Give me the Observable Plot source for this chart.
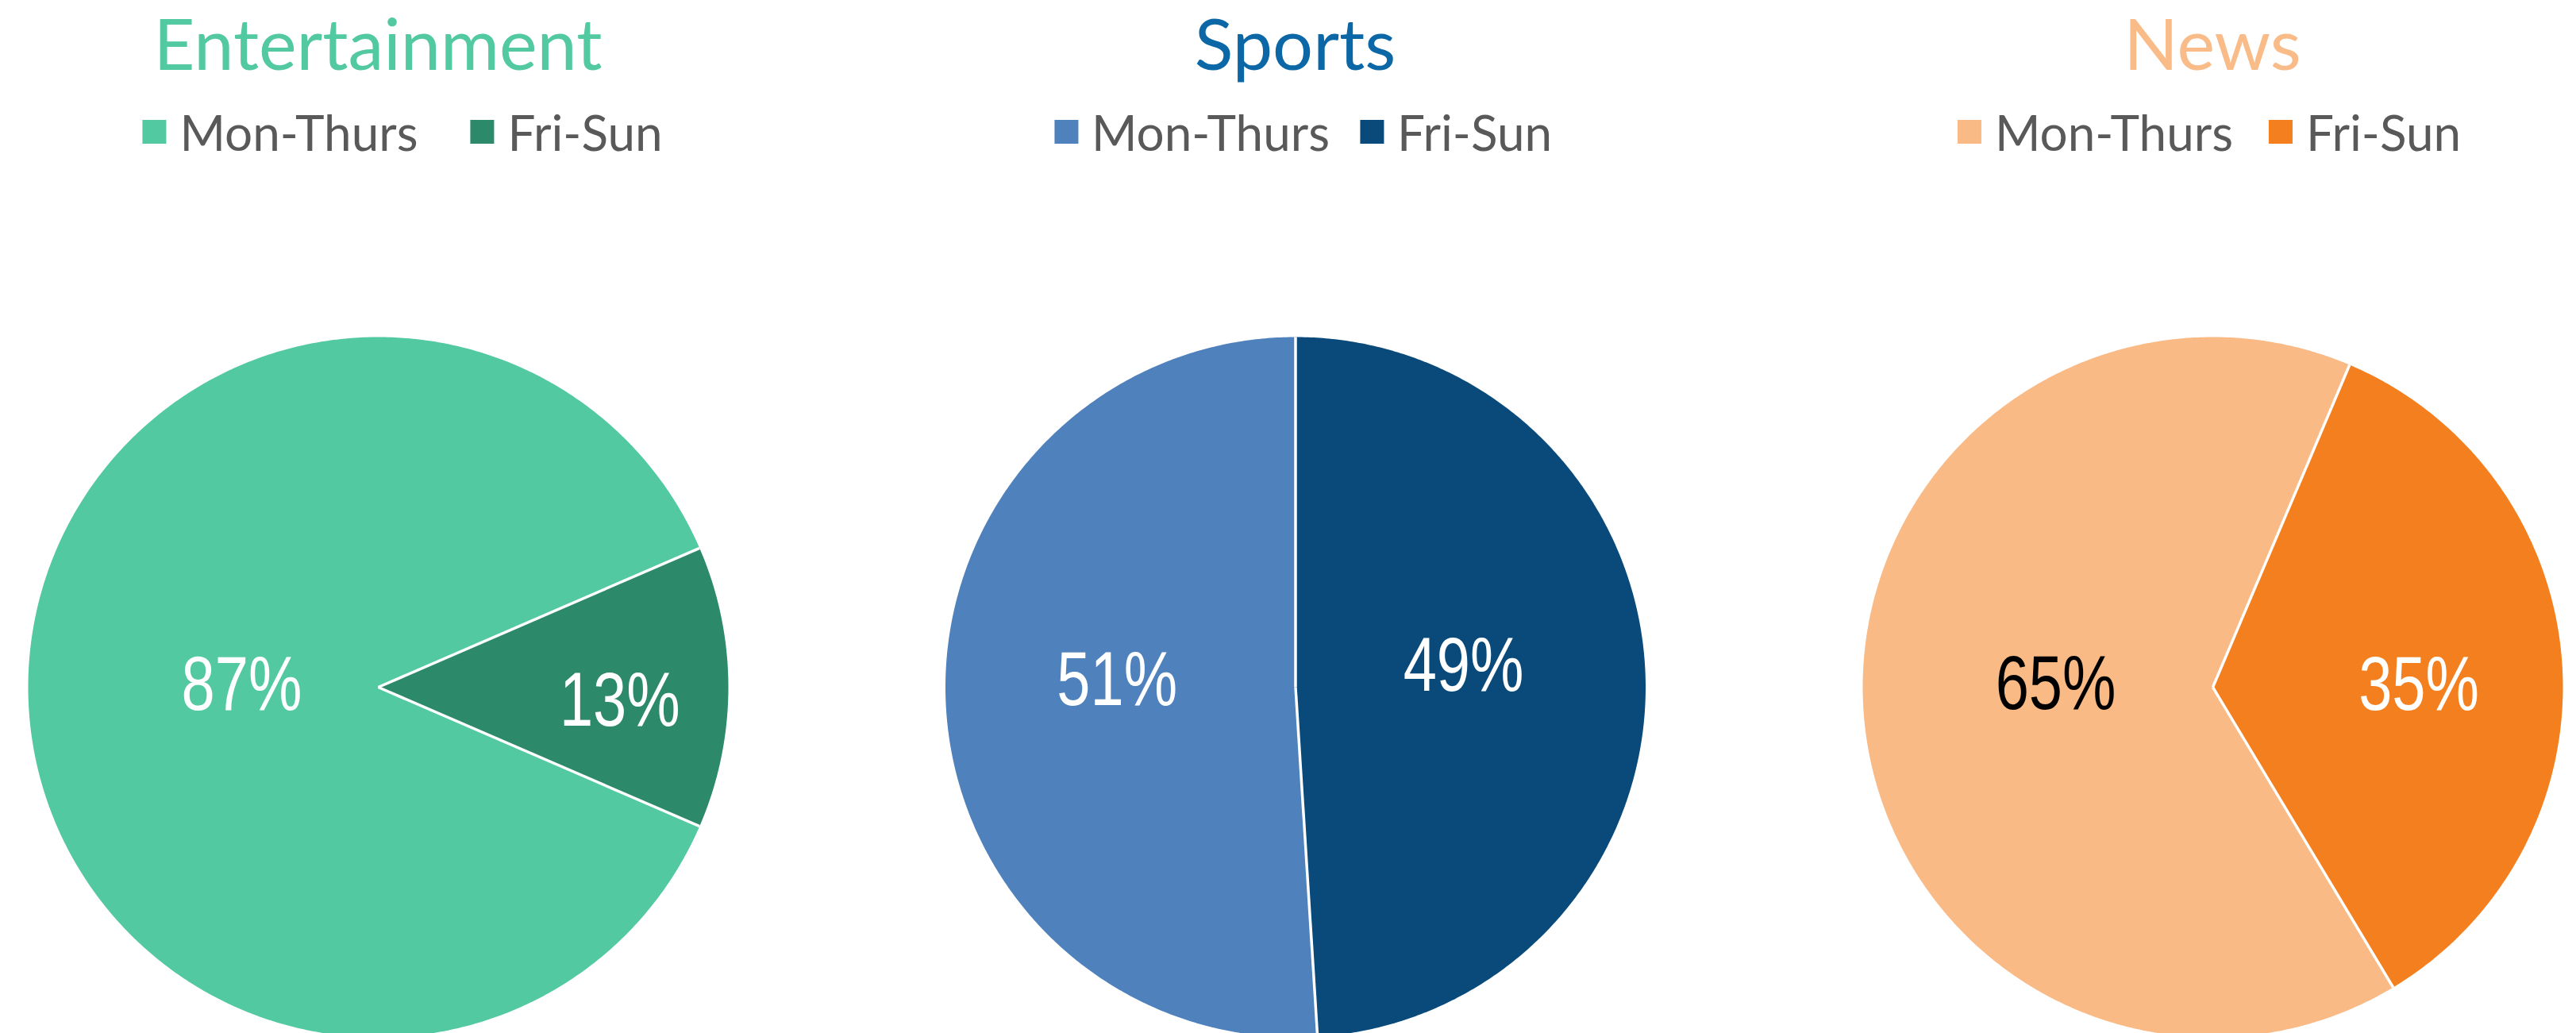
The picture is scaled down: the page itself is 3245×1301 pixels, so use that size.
<!DOCTYPE html>
<html><head><meta charset="utf-8">
<script src="https://cdn.jsdelivr.net/npm/d3@7"></script>
<script src="https://cdn.jsdelivr.net/npm/@observablehq/plot@0.6"></script>
<style>
html,body{margin:0;padding:0;background:#fff;overflow:hidden;}
#wrap{position:relative;width:3245px;height:1301px;}
#head{position:relative;width:3245px;height:220px;}
.title{position:absolute;transform:translateX(-50%);white-space:nowrap;font-family:Lato,"Open Sans",sans-serif;font-weight:400;font-size:90px;line-height:90px;top:8px;}
.legend{position:absolute;transform:translateX(-50%);display:flex;align-items:center;white-space:nowrap;font-family:Lato,"Open Sans",sans-serif;font-size:62px;line-height:62px;color:#595959;top:135px;}
.item{display:flex;align-items:center;}
.sw{width:30px;height:30px;margin-right:17px;}
</style></head><body>
<div id="wrap"><div id="head"></div><div id="chart"></div></div>
<script>
// ---- data ----
const charts = ["Entertainment", "Sports", "News"];
const periods = ["Mon-Thurs", "Fri-Sun"];
const monThurs = [87, 51, 65];
const friSun = [13, 49, 35];

// ---- styles ----
const sliceColors = [["#52C9A0", "#2C896A"], ["#4F81BD", "#094A7A"], ["#F9BA85", "#F47F1E"]];
const titleColors = ["#52C9A0", "#0B67A6", "#F9BC88"];
const labelInk = [["#FFFFFF", "#FFFFFF"], ["#FFFFFF", "#FFFFFF"], ["#000000", "#FFFFFF"]];
const firstSliceAngle = [113.4, 176.4, 149];        // degrees clockwise from 12 o'clock
const labelRadius = [[0.39, 0.69], [0.51, 0.48], [0.45, 0.59]];
const labelNudge = [[-2, 18], [-15, -20], [-17, 16]]; // px, downward
const legendGap = [66, 38, 45];
const legendShift = [31, 10, -4];

// ---- layout ----
const W = 3245, HEAD = 220, H = 1301 - HEAD, R = 441, CX0 = 476, GAP = 1155.5, CY = 645;

const values = [monThurs, friSun];
const slices = [], seps = [], labels = [], keys = [], colors = [];
charts.forEach((c, i) => {
  const cx = i * GAP / R;
  let a = firstSliceAngle[i];
  periods.forEach((p, j) => {
    const v = values[j][i];
    const sweep = v / 100 * 360;
    const key = c + "|" + p;
    keys.push(key); colors.push(sliceColors[i][j]);
    const n = Math.max(2, Math.ceil(sweep / 0.5));
    slices.push({key, x: cx, y: 0});
    for (let k = 0; k <= n; k++) {
      const t = (a + sweep * k / n) * Math.PI / 180;
      slices.push({key, x: cx + Math.sin(t), y: Math.cos(t)});
    }
    slices.push({key, x: cx, y: 0});
    const ts = a * Math.PI / 180;
    seps.push({x1: cx, y1: 0, x2: cx + Math.sin(ts), y2: Math.cos(ts)});
    const mid = (a + sweep / 2) * Math.PI / 180, f = labelRadius[i][j];
    labels.push({x: cx + f * Math.sin(mid), y: f * Math.cos(mid) - labelNudge[i][j] / R, text: v + "%", ink: labelInk[i][j]});
    a += sweep;
  });
});

const inks = [...new Set(labels.map(d => d.ink))];
const plot = Plot.plot({
  width: W, height: H,
  marginTop: 0, marginBottom: 0, marginLeft: 0, marginRight: 0,
  x: {domain: [-CX0 / R, (W - CX0) / R], axis: null},
  y: {domain: [-(H - CY) / R, CY / R], axis: null},
  color: {domain: keys, range: colors},
  marks: [
    Plot.line(slices, {x: "x", y: "y", z: "key", fill: "key", stroke: "none", curve: "linear"}),
    Plot.link(seps, {x1: "x1", y1: "y1", x2: "x2", y2: "y2", stroke: "#FFFFFF", strokeWidth: 3.5}),
    ...inks.map(ink => Plot.text(labels.filter(d => d.ink === ink), {
      x: "x", y: "y", text: "text", fill: ink,
      fontFamily: "Liberation Sans, Arial, sans-serif", fontSize: 96
    }))
  ]
});
document.getElementById("chart").appendChild(plot);

// condense the label glyphs like the original narrow face
plot.querySelectorAll('g[aria-label="text"] text').forEach(t => {
  const w = t.getComputedTextLength();
  t.setAttribute("textLength", (w * 0.79).toFixed(1));
  t.setAttribute("lengthAdjust", "spacingAndGlyphs");
});

// header: titles and legends centred over each pie
const xs = plot.scale("x");
const toPx = d3.scaleLinear(xs.domain, xs.range);
const head = document.getElementById("head");
charts.forEach((c, i) => {
  const px = toPx(i * GAP / R);
  const t = document.createElement("div");
  t.className = "title"; t.textContent = c;
  t.style.left = px + "px"; t.style.color = titleColors[i];
  head.appendChild(t);
  const lg = document.createElement("div");
  lg.className = "legend"; lg.style.left = (px + legendShift[i]) + "px";
  periods.forEach((p, j) => {
    const it = document.createElement("div"); it.className = "item";
    if (j > 0) it.style.marginLeft = legendGap[i] + "px";
    const sw = document.createElement("div"); sw.className = "sw"; sw.style.background = sliceColors[i][j];
    const tx = document.createElement("span"); tx.textContent = p;
    it.appendChild(sw); it.appendChild(tx); lg.appendChild(it);
  });
  head.appendChild(lg);
});
</script>
</body></html>
